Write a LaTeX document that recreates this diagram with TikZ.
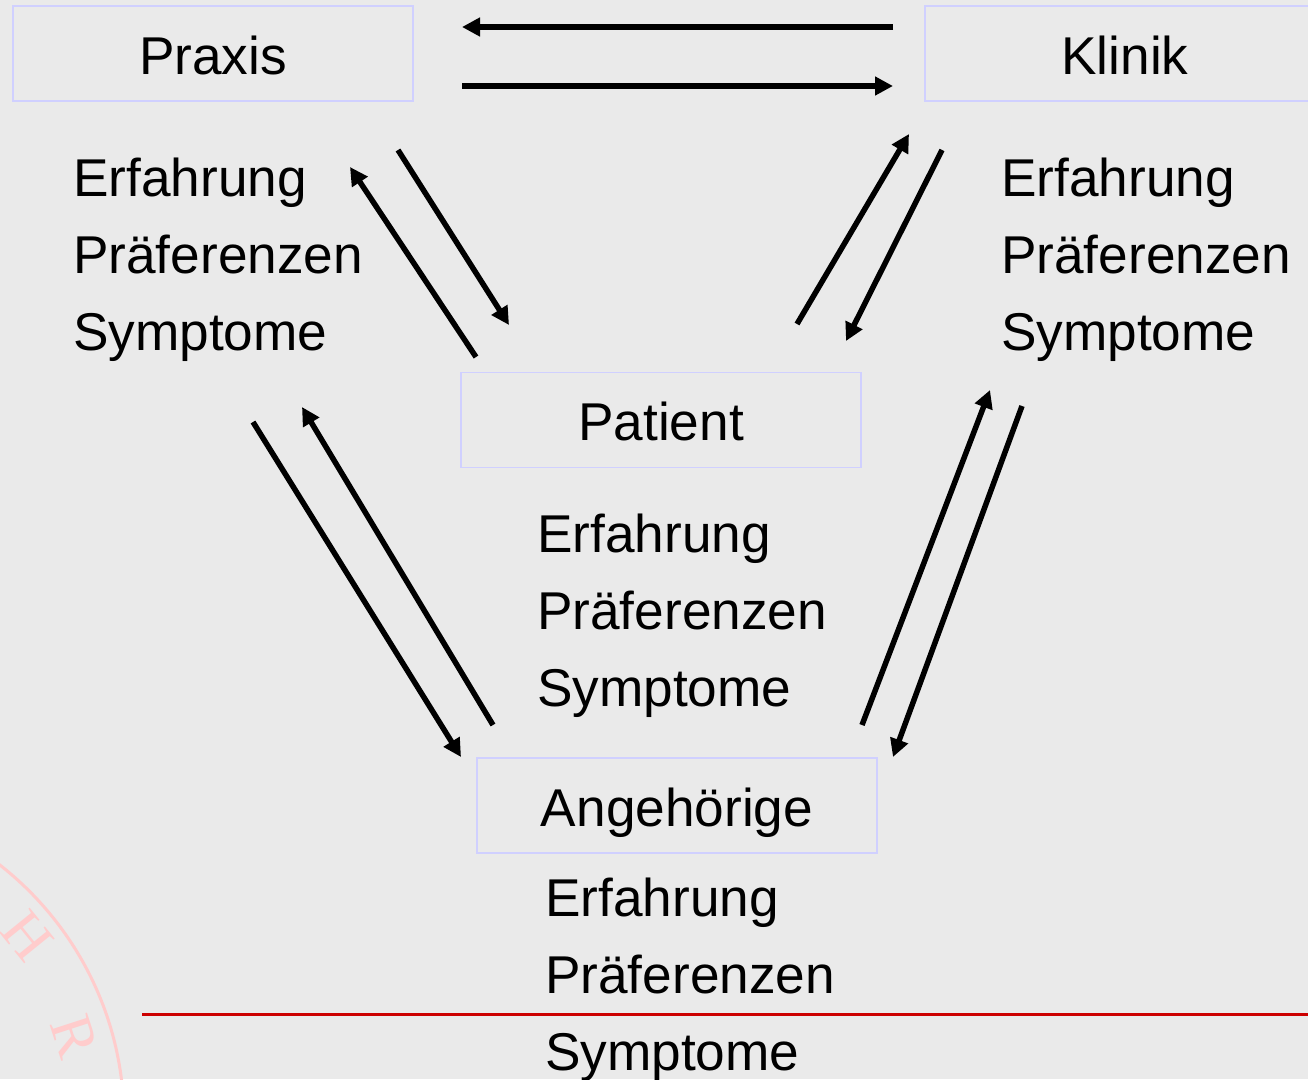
\documentclass[tikz,border=0pt]{standalone}
\usepackage{fontspec}
\setmainfont{Liberation Sans}
\newfontfamily\sealfont{Liberation Serif}
\usetikzlibrary{arrows.meta}
\definecolor{bg}{RGB}{234,234,234}
\definecolor{boxline}{RGB}{208,208,255}
\definecolor{sealpink}{RGB}{255,204,204}
\definecolor{rulered}{RGB}{204,0,0}
\newcommand\bigtxt{\fontsize{53.2pt}{77pt}\selectfont}
\newcommand\sealtxt{\sealfont\fontsize{60pt}{60pt}\selectfont}
\begin{document}
\begin{tikzpicture}[x=1pt,y=-1pt,
  box/.style={draw=boxline, line width=1.5pt, minimum width=400pt, minimum height=95pt,
    inner sep=0pt, text height=41pt, text depth=0pt, font=\bigtxt},
  item/.style={anchor=base west, inner sep=0pt, font=\bigtxt},
  arr/.style={line width=5.5pt, -{Triangle[length=18pt,width=18pt]}},
  seal/.style={text=sealpink, font=\sealtxt, inner sep=0pt},
]
\fill[bg] (0,0) rectangle (1308,1079);
\useasboundingbox (0,0) rectangle (1308,1079);

% watermark seal
\begin{scope}
  \clip (0,0) rectangle (1308,1079);
  \draw[sealpink, line width=3pt] (-200,1120) circle[radius=324pt];
  \node[seal, rotate=-51] (sealH) at (27,936) {H};
  \node[seal, rotate=-72] (sealR) at (74,1036) {R};
\end{scope}

% red rule
\coordinate (ruleA) at (142,1014);
\coordinate (ruleB) at (1308,1014);
\draw[rulered, line width=3pt] (ruleA) -- (ruleB);

% boxes
\begin{scope}
  \clip (0,0) rectangle (1308,1079);
  \node[box] (praxis) at (213,53.5) {Praxis};
  \node[box] (klinik) at (1125,53.5) {Klinik};
  \node[box] (patient) at (661,420) {Patient};
  \node[box] (angeh) at (677,805.5) {Angehörige};
\end{scope}

% lists
\node[item] (pE) at (73,196) {Erfahrung};
\node[item] (pP) at (73,273) {Präferenzen};
\node[item] (pS) at (73,350) {Symptome};
\node[item] (kE) at (1001,196) {Erfahrung};
\node[item] (kP) at (1001,273) {Präferenzen};
\node[item] (kS) at (1001,350) {Symptome};
\node[item] (tE) at (537,552) {Erfahrung};
\node[item] (tP) at (537,629) {Präferenzen};
\node[item] (tS) at (537,706) {Symptome};
\node[item] (aE) at (545,916) {Erfahrung};
\node[item] (aP) at (545,993) {Präferenzen};
\node[item] (aS) at (545,1070) {Symptome};

% arrow end points
\coordinate (a1s) at (893,27);   \coordinate (a1e) at (462,27);
\coordinate (a2s) at (462,86);   \coordinate (a2e) at (893,86);
\coordinate (a3s) at (476,357);  \coordinate (a3e) at (350,167);
\coordinate (a4s) at (398,150);  \coordinate (a4e) at (509,325);
\coordinate (a5s) at (797,324);  \coordinate (a5e) at (909,134);
\coordinate (a6s) at (942,150);  \coordinate (a6e) at (846,341);
\coordinate (a7s) at (253,422);  \coordinate (a7e) at (461,757);
\coordinate (a8s) at (493,725);  \coordinate (a8e) at (302,407);
\coordinate (a9s) at (862,725);  \coordinate (a9e) at (990,390);
\coordinate (a10s) at (1022,406); \coordinate (a10e) at (893,757);

\draw[arr] (a1s) -- (a1e);
\draw[arr] (a2s) -- (a2e);
\draw[arr] (a3s) -- (a3e);
\draw[arr] (a4s) -- (a4e);
\draw[arr] (a5s) -- (a5e);
\draw[arr] (a6s) -- (a6e);
\draw[arr] (a7s) -- (a7e);
\draw[arr] (a8s) -- (a8e);
\draw[arr] (a9s) -- (a9e);
\draw[arr] (a10s) -- (a10e);
\end{tikzpicture}
\end{document}
